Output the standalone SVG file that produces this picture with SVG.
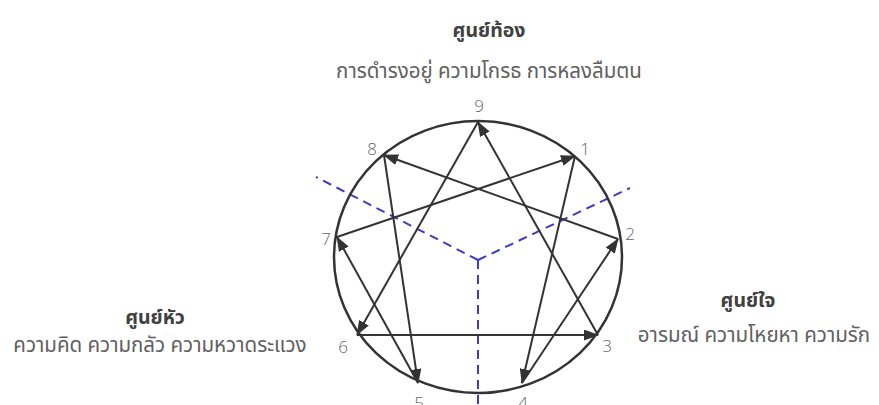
<svg xmlns="http://www.w3.org/2000/svg" width="879" height="405" viewBox="0 0 879 405">
<style>
.title{font-family:"Noto Sans Thai","Noto Sans","DejaVu Sans",sans-serif;font-size:19.5px;font-weight:bold;fill:#404040;text-anchor:middle}
.sub{font-family:"Noto Sans Thai","Noto Sans","DejaVu Sans",sans-serif;font-size:20.5px;fill:#606060;text-anchor:middle}
.num{font-family:"Open Sans","Noto Sans",sans-serif;font-size:17px;font-weight:300;fill:#5c646c;text-anchor:middle}
.chord{stroke:#333;stroke-width:2;fill:none;marker-end:url(#ah)}
.div{stroke:#3b3bc4;stroke-width:2;stroke-dasharray:9 6;fill:none}
</style>
<defs>
<marker id="ah" markerUnits="userSpaceOnUse" markerWidth="15" markerHeight="11" refX="14" refY="5.5" orient="auto">
<path d="M0,0 L15,5.5 L0,11 z" fill="#333"/>
</marker>
</defs>
<g id="dividers">
<path class="div" d="M478,260 L316,177"/>
<path class="div" d="M478,260 L630,188"/>
<path class="div" d="M478,260 L478,405"/>
</g>
<g id="circle">
<ellipse cx="478" cy="257" rx="144" ry="136" fill="none" stroke="#333" stroke-width="2.5"/>
</g>
<g id="connectors">
<line class="chord" x1="478" y1="122" x2="357" y2="335"/>
<line class="chord" x1="357" y1="335" x2="598" y2="335"/>
<line class="chord" x1="598" y1="335" x2="478" y2="122"/>
<line class="chord" x1="575" y1="156" x2="522" y2="383"/>
<line class="chord" x1="522" y1="383" x2="618" y2="239"/>
<line class="chord" x1="618" y1="239" x2="384" y2="155"/>
<line class="chord" x1="384" y1="155" x2="418" y2="383"/>
<line class="chord" x1="418" y1="383" x2="337" y2="237"/>
<line class="chord" x1="337" y1="237" x2="575" y2="156"/>
</g>
<g id="point-9"><text class="num" x="479" y="112">9</text></g>
<g id="point-1"><text class="num" x="585" y="155">1</text></g>
<g id="point-2"><text class="num" x="630" y="240">2</text></g>
<g id="point-3"><text class="num" x="607" y="352">3</text></g>
<g id="point-4"><text class="num" x="523" y="409">4</text></g>
<g id="point-5"><text class="num" x="419" y="409">5</text></g>
<g id="point-6"><text class="num" x="343" y="353">6</text></g>
<g id="point-7"><text class="num" x="326" y="245">7</text></g>
<g id="point-8"><text class="num" x="372" y="155">8</text></g>
<g id="center-gut">
<text class="title" x="489" y="37">ศูนย์ท้อง</text>
<text class="sub" x="489" y="78">การดำรงอยู่ ความโกรธ การหลงลืมตน</text>
</g>
<g id="center-head">
<text class="title" x="155" y="324">ศูนย์หัว</text>
<text class="sub" x="160" y="352">ความคิด ความกลัว ความหวาดระแวง</text>
</g>
<g id="center-heart">
<text class="title" x="748" y="307">ศูนย์ใจ</text>
<text class="sub" x="754" y="342">อารมณ์ ความโหยหา ความรัก</text>
</g>
</svg>
